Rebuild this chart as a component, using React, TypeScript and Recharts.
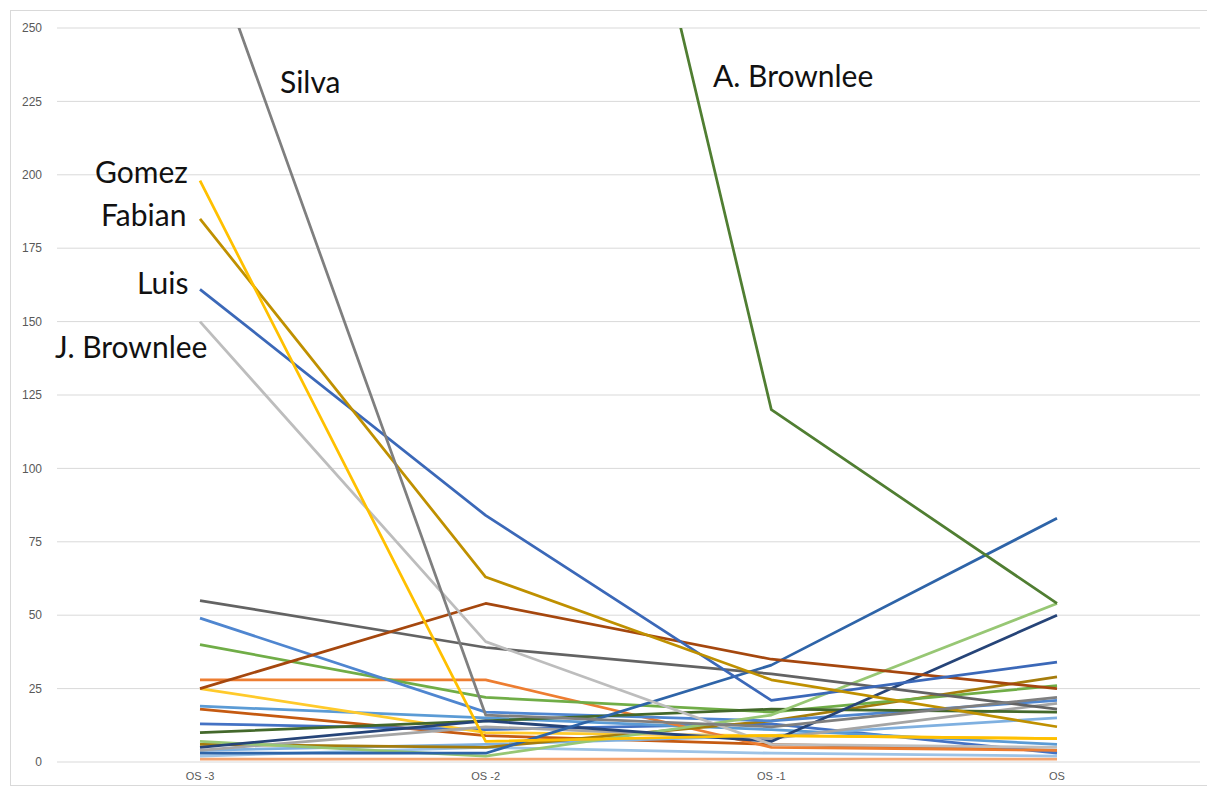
import { LineChart, Line, XAxis, YAxis, CartesianGrid } from "recharts";

const categories = ["OS -3", "OS -2", "OS -1", "OS"];
const yTicks = [0, 25, 50, 75, 100, 125, 150, 175, 200, 225, 250];

// values per series: OS-3, OS-2, OS-1, OS
const orangeBase = [1, 1, 1, 1];
const lightBlue2 = [2, 5, 3, 2];
const darkOrange18 = [18, 9, 6, 4];
const blue13 = [13, 11, 13, 3];
const lightBlue15 = [4, 6, 9, 15];
const blue19 = [19, 15, 11, 6];
const gold25 = [25, 10, 9, 8];
const orange28 = [28, 28, 5, 4];
const darkGold = [6, 5, 14, 29];
const lightGray = [4, 12, 8, 20];
const green40 = [40, 22, 17, 26];
const blue49 = [49, 17, 14, 21];
const darkGreen10 = [10, 14, 18, 17];
const lightGreen7 = [7, 2, 16, 54];
const navy = [5, 14, 7, 50];
const risingBlue = [3, 3, 33, 83];
const darkGray = [55, 39, 30, 18];
const brown = [25, 54, 35, 25];
const jBrownlee = [150, 41, 6, 5];
const luis = [161, 84, 21, 34];
const fabian = [185, 63, 28, 12];
const gomez = [198, 7, 9, 8];
const silva = [287, 16, 12, 22];
const aBrownlee = [700, 530, 120, 54];

const seriesValues = [
  orangeBase, lightBlue2, darkOrange18, blue13, lightBlue15, blue19, gold25, orange28,
  darkGold, lightGray, green40, blue49, darkGreen10, lightGreen7, navy, risingBlue,
  darkGray, brown, jBrownlee, luis, fabian, gomez, silva, aBrownlee,
];

const COLORS = [
  "#F4A470", "#9DC3E6", "#C55A11", "#4472C4", "#7FB0E0", "#5B9BD5", "#FFCA2B", "#ED7D31",
  "#A57C0C", "#A5A5A5", "#70AD47", "#4F86D0", "#43682B", "#97C774", "#264478", "#2E64A8",
  "#636363", "#A5470E", "#BDBDBD", "#3B68B8", "#BF9000", "#FFC000", "#7F7F7F", "#507E32",
];

const names = [
  { text: "Gomez", x: 95, y: 183 },
  { text: "Fabian", x: 101, y: 226 },
  { text: "Luis", x: 137, y: 294 },
  { text: "J. Brownlee", x: 55, y: 358 },
  { text: "Silva", x: 280, y: 93 },
  { text: "A. Brownlee", x: 713, y: 87 },
];

const data = categories.map((c, i) => {
  const row: Record<string, string | number> = { cat: c };
  seriesValues.forEach((s, k) => (row["s" + k] = s[i]));
  return row;
});

export default function App() {
  return (
    <div style={{ position: "relative", width: 1207, height: 780 }}>
      <div
        style={{
          position: "absolute", left: 2, top: 2, width: 1201, height: 774,
          border: "1px solid #D9D9D9", background: "#fff",
        }}
      >
        <LineChart width={1201} height={774} data={data} margin={{ top: 17, right: 12, left: 0, bottom: 0 }}>
          <CartesianGrid vertical={false} stroke="#D9D9D9" strokeWidth={1} />
          <XAxis
            dataKey="cat" axisLine={false} tickLine={false} tickSize={0} tickMargin={10} height={23}
            padding={{ left: 143, right: 143 }} interval={0}
            tick={{ fill: "#595959", fontSize: 11, fontFamily: "Liberation Sans, Arial, sans-serif" }}
          />
          <YAxis
            domain={[0, 250]} ticks={yTicks} allowDataOverflow axisLine={false} tickLine={false}
            tickSize={0} tickMargin={15} width={46} interval={0}
            tick={{ fill: "#595959", fontSize: 12, fontFamily: "Liberation Sans, Arial, sans-serif" }}
          />
          {seriesValues.map((_, k) => (
            <Line
              key={k} dataKey={"s" + k} stroke={COLORS[k]} strokeWidth={2.75}
              dot={false} activeDot={false} isAnimationActive={false} strokeLinejoin="round"
            />
          ))}
        </LineChart>
      </div>
      <svg width={1207} height={780} style={{ position: "absolute", left: 0, top: 0, pointerEvents: "none" }}>
        {names.map((n) => (
          <text key={n.text} x={n.x - 8} y={n.y - 8} fontFamily="Lato, sans-serif" fontSize={30} fill="#111">
            {n.text}
          </text>
        ))}
      </svg>
    </div>
  );
}
